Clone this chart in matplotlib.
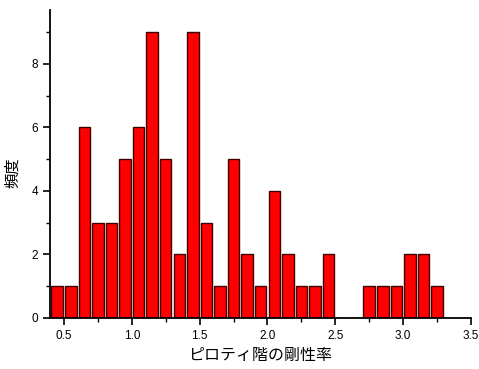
import numpy as np
import matplotlib.pyplot as plt
from matplotlib.ticker import MultipleLocator

plt.rcParams['font.family'] = ['Liberation Sans', 'Noto Sans CJK JP']

# ビンの中心と度数
bin_centers = [0.45, 0.55, 0.65, 0.75, 0.85, 0.95, 1.05, 1.15, 1.25, 1.35,
               1.45, 1.55, 1.65, 1.75, 1.85, 1.95, 2.05, 2.15, 2.25, 2.35,
               2.45, 2.55, 2.65, 2.75, 2.85, 2.95, 3.05, 3.15, 3.25]
counts = [1, 1, 6, 3, 3, 5, 6, 9, 5, 2,
          9, 3, 1, 5, 2, 1, 4, 2, 1, 1,
          2, 0, 0, 1, 1, 1, 2, 2, 1]

fig = plt.figure(figsize=(4.79, 3.69), dpi=100)
ax = fig.add_axes([50 / 479, 1 - 318 / 369, 421 / 479, 308 / 369])

ax.bar(bin_centers, counts, width=0.085, color='#ff0000',
       edgecolor='#400000', linewidth=1.0)

ax.set_xlim(0.397, 3.5)
ax.set_ylim(0, 9.7)
ax.xaxis.set_major_locator(MultipleLocator(0.5))
ax.xaxis.set_minor_locator(MultipleLocator(0.25))
ax.yaxis.set_major_locator(MultipleLocator(2))
ax.yaxis.set_minor_locator(MultipleLocator(1))
ax.set_xticks([0.5, 1.0, 1.5, 2.0, 2.5, 3.0, 3.5])
ax.set_xticklabels(['0.5', '1.0', '1.5', '2.0', '2.5', '3.0', '3.5'])

for side in ['top', 'right']:
    ax.spines[side].set_visible(False)
for side in ['left', 'bottom']:
    ax.spines[side].set_linewidth(1.3)

ax.tick_params(which='major', direction='out', length=5, width=1.2, labelsize=8.5)
ax.tick_params(which='minor', direction='out', length=3, width=1.0)

ax.set_xlabel('ピロティ階の剛性率', fontsize=11.5, family=['Noto Sans CJK JP'])
ax.set_ylabel('頻度', fontsize=11, family=['Noto Sans CJK JP'])
ax.yaxis.set_label_coords(-0.068, 0.47)

fig.savefig('out.png', dpi=100)
